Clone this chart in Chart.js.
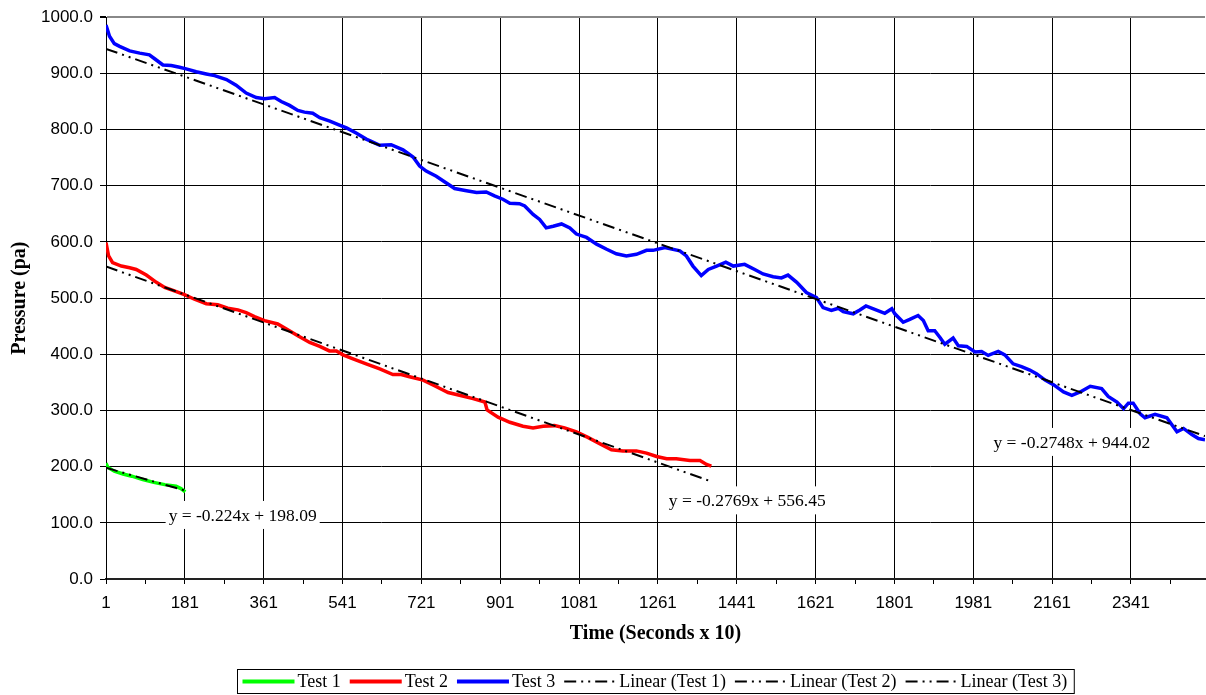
<!DOCTYPE html>
<html>
<head>
<meta charset="utf-8">
<script src="https://cdn.jsdelivr.net/npm/chart.js@4.4.1/dist/chart.umd.min.js"></script>
<style>
  html, body { margin: 0; padding: 0; background: #fff; }
</style>
</head>
<body>
<canvas id="chart" width="1206" height="695"></canvas>
<script>
// Test 1 (green)
const test1X = [1, 5, 20, 40, 60, 85, 110, 135, 161, 172, 182];
const test1Y = [206, 199, 192, 187, 183, 177, 172, 168, 165, 161, 155];

// Test 2 (red)
const test2X = [1, 7, 16, 36, 55, 70, 93, 116, 135, 157,
  180, 203, 230, 256, 279, 302, 321, 340, 363, 393,
  413, 439, 466, 489, 511, 527, 542, 565, 595, 626,
  656, 675, 694, 725, 751, 782, 808, 839, 866, 871,
  896, 923, 953, 976, 999, 1025, 1048, 1075, 1101, 1128,
  1155, 1181, 1212, 1235, 1258, 1281, 1303, 1334, 1357, 1372,
  1383];
const test2Y = [599, 575, 563, 557, 554, 551, 541, 528, 519, 513,
  506, 498, 490, 488, 482, 479, 474, 467, 460, 454,
  445, 433, 421, 414, 406, 406, 399, 392, 383, 374,
  364, 364, 360, 354, 344, 332, 327, 321, 315, 301,
  288, 279, 272, 269, 272, 273, 269, 262, 252, 241,
  230, 228, 228, 224, 218, 214, 214, 211, 211, 204,
  201];

// Test 3 (blue)
const test3X = [1, 9, 20, 32, 55, 78, 100, 112, 131, 150,
  169, 184, 207, 230, 249, 276, 298, 321, 344, 363,
  386, 401, 420, 439, 454, 473, 489, 512, 534, 550,
  572, 595, 604, 626, 652, 679, 702, 717, 732, 755,
  778, 797, 824, 847, 869, 888, 907, 923, 945, 957,
  976, 991, 1006, 1022, 1041, 1060, 1075, 1098, 1121, 1144,
  1166, 1189, 1212, 1235, 1250, 1277, 1311, 1326, 1341, 1360,
  1376, 1395, 1416, 1433, 1459, 1482, 1501, 1524, 1543, 1558,
  1578, 1600, 1623, 1638, 1657, 1673, 1684, 1707, 1722, 1736,
  1753, 1779, 1795, 1802, 1821, 1836, 1855, 1867, 1878, 1893,
  1905, 1916, 1935, 1947, 1966, 1985, 2000, 2015, 2038, 2053,
  2072, 2091, 2110, 2126, 2145, 2164, 2187, 2206, 2225, 2248,
  2274, 2289, 2309, 2324, 2335, 2346, 2362, 2373, 2396, 2423,
  2434, 2446, 2461, 2480, 2495, 2510];
const test3Y = [986, 966, 953, 948, 940, 936, 933, 926, 915, 914,
  911, 908, 903, 899, 896, 889, 879, 865, 857, 855,
  857, 850, 843, 834, 831, 829, 821, 815, 808, 803,
  794, 783, 780, 772, 773, 764, 751, 735, 726, 717,
  705, 695, 691, 688, 689, 682, 676, 669, 668, 664,
  649, 640, 625, 628, 632, 625, 614, 608, 596, 587,
  579, 575, 578, 585, 585, 590, 584, 575, 557, 540,
  551, 557, 564, 557, 560, 551, 543, 538, 536, 541,
  528, 510, 501, 483, 478, 482, 476, 472, 479, 486,
  481, 473, 481, 472, 457, 462, 469, 460, 442, 442,
  430, 418, 429, 415, 414, 404, 405, 398, 405, 399,
  383, 378, 372, 365, 354, 346, 333, 327, 333, 343,
  339, 325, 315, 303, 313, 313, 294, 287, 293, 287,
  275, 262, 268, 257, 250, 248];

// linear trendlines (end points)
const trend1X = [1, 182];
const trend1Y = [197.9, 157.3];
const trend2X = [1, 1383];
const trend2Y = [556.2, 173.5];
const trend3X = [1, 2510];
const trend3Y = [943.7, 254.3];

// trendline equation labels and where they sit (data units)
const trendText = ['y = -0.224x + 198.09', 'y = -0.2769x + 556.45', 'y = -0.2748x + 944.02'];
const trendTextX = [313, 1465, 2206];
const trendTextY = [114, 140, 244];

const X_MIN = 1;
const X_MAX = 2510;
const TICK_STEP = 90;   // small tick marks
const LABEL_STEP = 180; // labels + gridlines

function pts(xs, ys) {
	return xs.map((x, i) => ({ x: x, y: ys[i] }));
}

const DASH = [12, 5, 2, 5, 2, 5];

const datasets = [
	{ label: 'Test 1', data: pts(test1X, test1Y), borderColor: '#00ff00', borderWidth: 3.5, order: 1 },
	{ label: 'Test 2', data: pts(test2X, test2Y), borderColor: '#ff0000', borderWidth: 3.5, order: 1 },
	{ label: 'Test 3', data: pts(test3X, test3Y), borderColor: '#0000ff', borderWidth: 3.5, order: 1 },
	{ label: 'Linear (Test 1)', data: pts(trend1X, trend1Y), borderColor: '#000', borderWidth: 2, borderDash: DASH, order: 0 },
	{ label: 'Linear (Test 2)', data: pts(trend2X, trend2Y), borderColor: '#000', borderWidth: 2, borderDash: DASH, order: 0 },
	{ label: 'Linear (Test 3)', data: pts(trend3X, trend3Y), borderColor: '#000', borderWidth: 2, borderDash: DASH, order: 0 }
];

function isMajor(v) {
	return (v - X_MIN) % LABEL_STEP === 0;
}

// equation boxes on the plot
const trendLabelPlugin = {
	id: 'trendLabels',
	afterDatasetsDraw(chart) {
		let ctx = chart.ctx;
		let xs = chart.scales.x;
		let ys = chart.scales.y;
		ctx.save();
		ctx.font = '17.5px "Liberation Serif"';
		ctx.textAlign = 'center';
		ctx.textBaseline = 'middle';
		trendText.forEach((t, i) => {
			let px = xs.getPixelForValue(trendTextX[i]);
			let py = ys.getPixelForValue(trendTextY[i]);
			let w = ctx.measureText(t).width;
			ctx.fillStyle = '#fff';
			ctx.fillRect(px - w / 2 - 3, py - 14, w + 6, 28);
			ctx.fillStyle = '#000';
			ctx.fillText(t, px, py + 1);
		});
		ctx.restore();
	}
};

// excel style boxed legend under the axis title
const boxLegendPlugin = {
	id: 'boxLegend',
	afterDraw(chart) {
		let ctx = chart.ctx;
		let area = chart.chartArea;
		const lineLen = 52, gapText = 3, gapItem = 9, padL = 5, padR = 7;
		const top = 669.5, h = 24;
		ctx.save();
		ctx.font = '18px "Liberation Serif"';
		let items = chart.data.datasets.map(ds => ({
			label: ds.label,
			color: ds.borderColor,
			dash: ds.borderDash || [],
			lw: ds.borderDash ? 2 : 4,
			w: ctx.measureText(ds.label).width
		}));
		let total = padL + padR + gapItem * (items.length - 1);
		items.forEach(it => { total += lineLen + gapText + it.w; });
		let left = Math.round((area.left + area.right) / 2 - total / 2) + 0.5;
		ctx.strokeStyle = '#000';
		ctx.lineWidth = 1;
		ctx.strokeRect(left, top, total, h);
		let x = left + padL;
		let cy = top + h / 2;
		items.forEach(it => {
			ctx.beginPath();
			ctx.setLineDash(it.dash);
			ctx.strokeStyle = it.color;
			ctx.lineWidth = it.lw;
			ctx.moveTo(x, cy);
			ctx.lineTo(x + lineLen, cy);
			ctx.stroke();
			ctx.setLineDash([]);
			x += lineLen + gapText;
			ctx.fillStyle = '#000';
			ctx.textBaseline = 'middle';
			ctx.textAlign = 'left';
			ctx.fillText(it.label, x, cy + 1);
			x += it.w + gapItem;
		});
		ctx.restore();
	}
};

new Chart(document.getElementById('chart'), {
	type: 'line',
	data: { datasets: datasets },
	options: {
		responsive: false,
		animation: false,
		devicePixelRatio: 1,
		layout: { padding: { top: 16, right: 1, bottom: 49, left: 0 } },
		elements: {
			point: { radius: 0 },
			line: { tension: 0, fill: false }
		},
		plugins: {
			legend: { display: false },
			tooltip: { enabled: false }
		},
		scales: {
			x: {
				type: 'linear',
				min: X_MIN,
				max: X_MAX,
				afterBuildTicks: (scale) => {
					let ticks = [];
					for (let v = X_MIN; v <= X_MAX; v += TICK_STEP) {
						ticks.push({ value: v });
					}
					scale.ticks = ticks;
				},
				afterFit: (scale) => { scale.height = 67; },
				ticks: {
					autoSkip: false,
					maxRotation: 0,
					padding: 9,
					color: '#000',
					font: { family: '"Liberation Sans"', size: 17 },
					callback: (v) => isMajor(v) ? String(v) : ''
				},
				grid: {
					color: (c) => (c.tick && isMajor(c.tick.value)) ? '#000' : 'rgba(0,0,0,0)',
					tickColor: '#000',
					tickLength: 5,
					lineWidth: 1
				},
				border: { color: '#222', width: 2 },
				title: {
					display: true,
					text: 'Time (Seconds x 10)',
					color: '#000',
					padding: { top: 0, bottom: 0 },
					font: { family: '"Liberation Serif"', size: 20, weight: 'bold' }
				}
			},
			y: {
				min: 0,
				max: 1000,
				afterFit: (scale) => { scale.width = 106; },
				ticks: {
					stepSize: 100,
					padding: 7,
					color: '#000',
					font: { family: '"Liberation Sans"', size: 17 },
					callback: (v) => Number(v).toFixed(1)
				},
				grid: {
					color: (c) => (c.tick && c.tick.value === 1000) ? '#888' : '#000',
					lineWidth: (c) => (c.tick && c.tick.value === 1000) ? 2 : 1,
					tickColor: '#000',
					tickLength: 6
				},
				border: { color: '#000', width: 1 },
				title: {
					display: true,
					text: 'Pressure (pa)',
					color: '#000',
					padding: { top: 8, bottom: 0 },
					font: { family: '"Liberation Serif"', size: 20, weight: 'bold' }
				}
			}
		}
	},
	plugins: [trendLabelPlugin, boxLegendPlugin]
});
</script>
</body>
</html>
